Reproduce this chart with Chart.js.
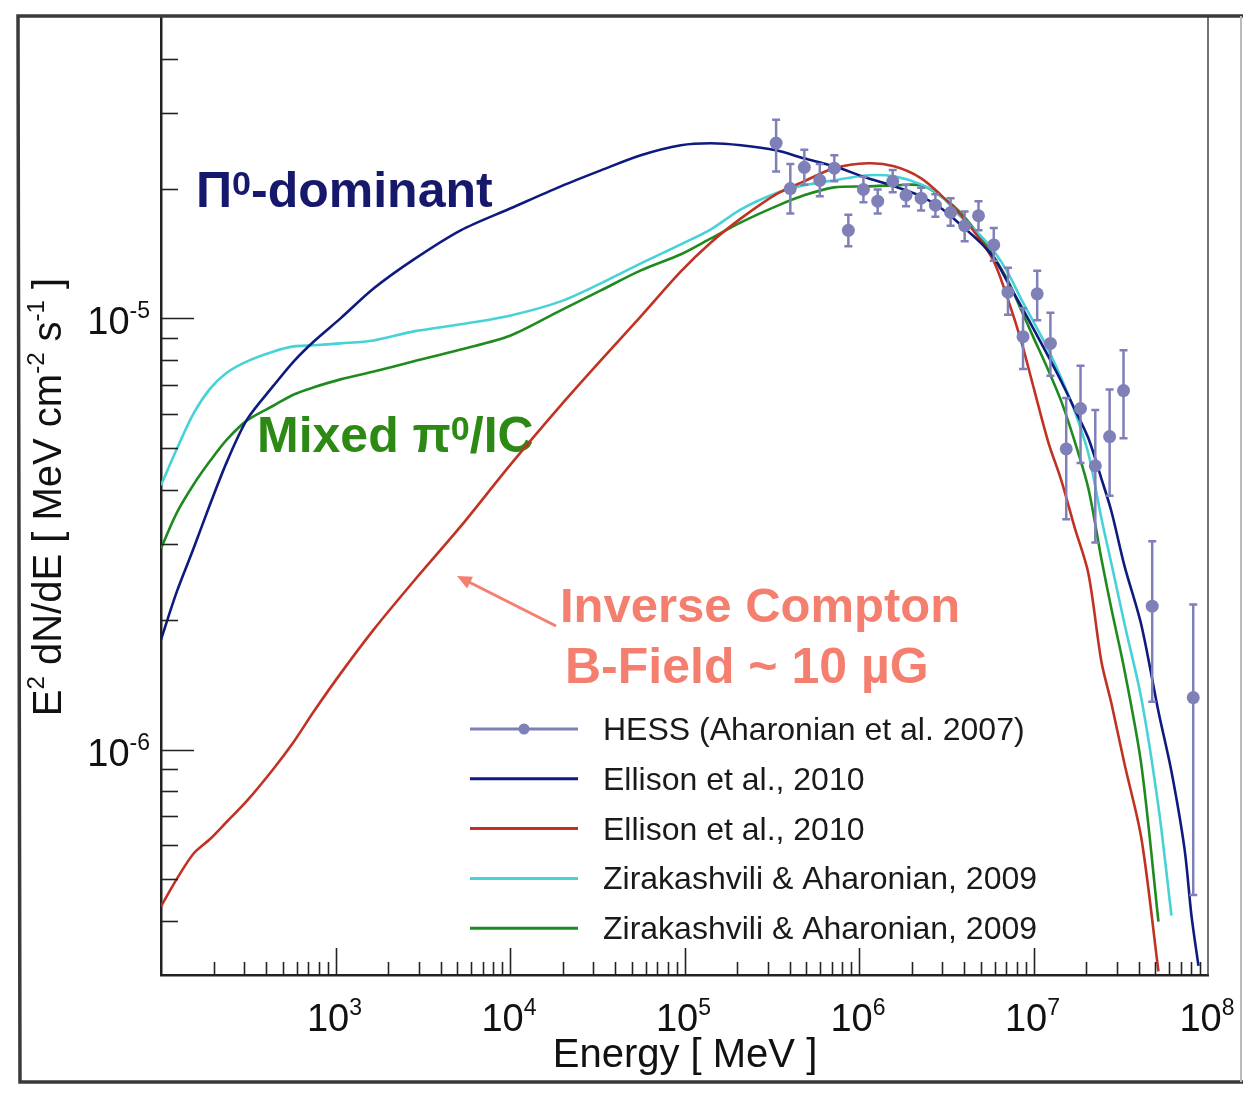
<!DOCTYPE html>
<html>
<head>
<meta charset="utf-8">
<script src="https://cdn.jsdelivr.net/npm/chart.js@4.4.1/dist/chart.umd.min.js"></script>
<style>
  html, body { margin: 0; padding: 0; background: #fff; }
  #wrap { width: 1245px; height: 1094px; }
</style>
</head>
<body>
<div id="wrap"><canvas id="c" width="1245" height="1094"></canvas></div>
<script>
// energy grid shared by the model curves [MeV]
const energyGrid = [100, 123.5, 153.8, 191.8, 239.1, 311.5, 442.6, 576.7, 750.8, 1068,
  1659, 2813, 5215, 10090, 19540, 33150, 56220, 95350, 141700, 210600,
  334500, 484200, 719600, 1.128e6, 1.590e6, 2.271e6, 2.958e6, 3.853e6, 5.018e6, 5.958e6,
  7.170e6, 8.511e6, 1.011e7, 1.216e7, 1.443e7, 1.715e7, 2.063e7, 2.449e7, 2.795e7, 3.319e7,
  4.155e7, 5.200e7, 6.175e7, 7.333e7, 8.04e7, 8.82e7];

// E^2 dN/dE [MeV cm^-2 s^-1]
const fluxEllisonPion = [1.80e-6, 2.33e-6, 2.93e-6, 3.72e-6, 4.66e-6, 5.83e-6, 6.99e-6, 7.95e-6, 8.84e-6, 1.00e-5,
  1.174e-5, 1.37e-5, 1.60e-5, 1.80e-5, 2.024e-5, 2.204e-5, 2.389e-5, 2.520e-5, 2.547e-5, 2.520e-5,
  2.453e-5, 2.351e-5, 2.252e-5, 2.113e-5, 2.024e-5, 1.919e-5, 1.800e-5, 1.644e-5, 1.493e-5, 1.378e-5,
  1.206e-5, 1.066e-5, 9.38e-6, 8.16e-6, 7.14e-6, 6.18e-6, 5.27e-6, 4.25e-6, 3.57e-6, 2.67e-6,
  1.94e-6, 1.225e-6, 8.89e-7, 5.89e-7, 4.12e-7, 3.15e-7];

const fluxEllisonIC = [4.33e-7, 5.02e-7, 5.74e-7, 6.21e-7, 6.81e-7, 7.61e-7, 9.04e-7, 1.043e-6, 1.225e-6, 1.50e-6,
  1.90e-6, 2.46e-6, 3.292e-6, 4.585e-6, 6.284e-6, 7.99e-6, 1.011e-5, 1.285e-5, 1.500e-5, 1.706e-5,
  1.940e-5, 2.079e-5, 2.228e-5, 2.289e-5, 2.252e-5, 2.113e-5, 1.929e-5, 1.734e-5, 1.509e-5, 1.349e-5,
  1.101e-5, 8.84e-6, 6.81e-6, 5.16e-6, 4.21e-6, 3.29e-6, 2.56e-6, 1.60e-6, 1.28e-6, 9.28e-7,
  6.21e-7, 3.06e-7, null, null, null, null];

const fluxZirakCyan = [4.10e-6, 4.99e-6, 6.02e-6, 6.88e-6, 7.49e-6, 7.95e-6, 8.38e-6, 8.61e-6, 8.66e-6, 8.75e-6,
  8.89e-6, 9.33e-6, 9.69e-6, 1.016e-5, 1.095e-5, 1.206e-5, 1.341e-5, 1.485e-5, 1.609e-5, 1.790e-5,
  1.950e-5, 2.035e-5, 2.090e-5, 2.147e-5, 2.135e-5, 2.046e-5, 1.919e-5, 1.715e-5, 1.550e-5, 1.430e-5,
  1.272e-5, 1.107e-5, 9.74e-6, 8.45e-6, 7.26e-6, 6.12e-6, 4.86e-6, 3.44e-6, 2.70e-6, 1.96e-6,
  1.31e-6, 7.37e-7, 4.12e-7, null, null, null];

const fluxZirakGreen = [2.93e-6, 3.55e-6, 4.12e-6, 4.68e-6, 5.24e-6, 5.80e-6, 6.28e-6, 6.66e-6, 6.92e-6, 7.22e-6,
  7.53e-6, 7.95e-6, 8.47e-6, 9.13e-6, 1.044e-5, 1.161e-5, 1.292e-5, 1.408e-5, 1.533e-5, 1.670e-5,
  1.819e-5, 1.929e-5, 2.013e-5, 2.024e-5, 2.035e-5, 2.035e-5, 1.919e-5, 1.752e-5, 1.533e-5, 1.385e-5,
  1.218e-5, 1.044e-5, 8.94e-6, 7.58e-6, 6.42e-6, 5.21e-6, 4.03e-6, 2.77e-6, 2.12e-6, 1.53e-6,
  9.18e-7, 3.99e-7, null, null, null, null];

// HESS points with error bars
const hessEnergy = [3.35e5, 4.04e5, 4.86e5, 5.96e5, 7.22e5, 8.69e5, 1.06e6, 1.28e6, 1.56e6, 1.86e6,
  2.27e6, 2.74e6, 3.35e6, 4.03e6, 4.84e6, 5.92e6, 7.14e6, 8.71e6, 1.05e7, 1.25e7,
  1.54e7, 1.86e7, 2.26e7, 2.73e7, 3.28e7, 4.79e7, 8.23e7];
const hessFlux = [2.55e-5, 2.00e-5, 2.24e-5, 2.09e-5, 2.23e-5, 1.60e-5, 1.99e-5, 1.87e-5, 2.08e-5, 1.93e-5,
  1.90e-5, 1.83e-5, 1.76e-5, 1.64e-5, 1.73e-5, 1.48e-5, 1.15e-5, 9.07e-6, 1.14e-5, 8.75e-6,
  4.98e-6, 6.18e-6, 4.55e-6, 5.32e-6, 6.80e-6, 2.15e-6, 1.32e-6];
const hessLow = [2.19e-5, 1.75e-5, 2.04e-5, 1.92e-5, 2.08e-5, 1.47e-5, 1.86e-5, 1.75e-5, 1.96e-5, 1.82e-5,
  1.78e-5, 1.72e-5, 1.64e-5, 1.51e-5, 1.60e-5, 1.36e-5, 1.02e-5, 7.63e-6, 9.9e-6, 7.36e-6,
  3.42e-6, 4.62e-6, 3.02e-6, 3.88e-6, 5.27e-6, 1.29e-6, 4.6e-7];
const hessHigh = [2.89e-5, 2.28e-5, 2.46e-5, 2.28e-5, 2.39e-5, 1.74e-5, 2.13e-5, 1.99e-5, 2.21e-5, 2.04e-5,
  2.01e-5, 1.94e-5, 1.90e-5, 1.77e-5, 1.87e-5, 1.62e-5, 1.31e-5, 1.055e-5, 1.29e-5, 1.03e-5,
  6.54e-6, 7.76e-6, 6.13e-6, 6.84e-6, 8.44e-6, 3.04e-6, 2.17e-6];

const legendLabels = ["HESS (Aharonian et al. 2007)", "Ellison et al., 2010", "Ellison et al., 2010",
  "Zirakashvili & Aharonian, 2009", "Zirakashvili & Aharonian, 2009"];
const xTickExp = [3, 4, 5, 6, 7, 8];
const yTickExp = [-5, -6];

const COL = {
  hess: "#7f80b8",
  navy: "#0f1a7e",
  red: "#c03222",
  cyan: "#46d2d6",
  green: "#1f8a1f"
};
const FONT = '"Liberation Sans", Arial, sans-serif';

function pts(xs, ys) {
  return xs.map((x, i) => ({ x, y: ys[i] }));
}

function curve(label, ys, color) {
  return {
    label, data: pts(energyGrid, ys),
    borderColor: color, backgroundColor: color,
    borderWidth: 2.6, pointRadius: 0, fill: false,
    tension: 0.3, spanGaps: false
  };
}

// draw text pieces one after the other (used for superscripts)
function drawPieces(ctx, pieces, x, y, align) {
  let w = 0;
  pieces.forEach(p => { ctx.font = p.font; p.w = ctx.measureText(p.t).width; w += p.w; });
  let cx = align === "center" ? x - w / 2 : align === "right" ? x - w : x;
  ctx.textAlign = "left";
  ctx.textBaseline = "alphabetic";
  pieces.forEach(p => {
    ctx.font = p.font;
    ctx.fillText(p.t, cx, y + (p.dy || 0));
    cx += p.w;
  });
}

function power(exp, size) {
  const sup = Math.round(size * 0.6);
  return [
    { t: "10", font: `${size}px ${FONT}` },
    { t: String(exp), font: `${sup}px ${FONT}`, dy: -Math.round(size * 0.42) }
  ];
}

const decor = {
  id: "decor",
  beforeDatasetsDraw(chart) {
    const ctx = chart.ctx;
    ctx.save();
    // Π0-dominant
    ctx.fillStyle = "#16196b";
    drawPieces(ctx, [
      { t: "\u03a0", font: `bold 50px ${FONT}` },
      { t: "0", font: `bold 34px ${FONT}`, dy: -12 },
      { t: "-dominant", font: `bold 50px ${FONT}` }
    ], 196, 207, "left");
    // Mixed π0/IC
    ctx.fillStyle = "#2c8a14";
    drawPieces(ctx, [
      { t: "Mixed \u03c0", font: `bold 50px ${FONT}` },
      { t: "0", font: `bold 34px ${FONT}`, dy: -12 },
      { t: "/IC", font: `bold 50px ${FONT}` }
    ], 257, 452, "left");
    // Inverse Compton
    ctx.fillStyle = "#f47f6f";
    ctx.font = `bold 49px ${FONT}`;
    ctx.textAlign = "left";
    ctx.fillText("Inverse Compton", 560, 622);
    ctx.font = `bold 50px ${FONT}`;
    ctx.fillText("B-Field ~ 10 \u00b5G", 565, 683);
    // arrow
    ctx.strokeStyle = "#f47f6f";
    ctx.lineWidth = 3;
    const ax0 = 556, ay0 = 626, ax1 = 457, ay1 = 576;
    ctx.beginPath(); ctx.moveTo(ax0, ay0); ctx.lineTo(ax1 + 6, ay1 + 3); ctx.stroke();
    const ang = Math.atan2(ay1 - ay0, ax1 - ax0);
    ctx.beginPath();
    ctx.moveTo(ax1, ay1);
    ctx.lineTo(ax1 - 16 * Math.cos(ang - 0.42), ay1 - 16 * Math.sin(ang - 0.42));
    ctx.lineTo(ax1 - 16 * Math.cos(ang + 0.42), ay1 - 16 * Math.sin(ang + 0.42));
    ctx.closePath();
    ctx.fillStyle = "#f47f6f";
    ctx.fill();
    ctx.restore();
  },
  beforeDatasetDraw(chart, args) {
    if (args.index !== 0) return;
    const ctx = chart.ctx, xs = chart.scales.x, ys = chart.scales.y, a = chart.chartArea;
    ctx.save();
    ctx.beginPath(); ctx.rect(a.left, a.top, a.right - a.left, a.bottom - a.top); ctx.clip();
    ctx.strokeStyle = COL.hess;
    ctx.lineWidth = 2.5;
    hessEnergy.forEach((e, i) => {
      const px = xs.getPixelForValue(e);
      const yl = ys.getPixelForValue(hessLow[i]);
      const yh = ys.getPixelForValue(hessHigh[i]);
      ctx.beginPath();
      ctx.moveTo(px, yl); ctx.lineTo(px, yh);
      ctx.moveTo(px - 4, yl); ctx.lineTo(px + 4, yl);
      ctx.moveTo(px - 4, yh); ctx.lineTo(px + 4, yh);
      ctx.stroke();
    });
    ctx.restore();
  },
  afterDraw(chart) {
    const ctx = chart.ctx, xs = chart.scales.x, ys = chart.scales.y, a = chart.chartArea;
    ctx.save();
    // right axis line
    ctx.strokeStyle = "#444";
    ctx.lineWidth = 1.5;
    ctx.beginPath(); ctx.moveTo(a.right, a.top); ctx.lineTo(a.right, a.bottom); ctx.stroke();

    // inward tick marks
    ctx.strokeStyle = "#222";
    ctx.lineWidth = 1.6;
    for (let d = 2; d <= 8; d++) {
      for (let m = 1; m <= 9; m++) {
        const v = m * Math.pow(10, d);
        if (v <= xs.min || v >= xs.max) continue;
        const px = Math.round(xs.getPixelForValue(v)) + 0.5;
        const len = m === 1 ? 27 : 13;
        ctx.beginPath(); ctx.moveTo(px, a.bottom); ctx.lineTo(px, a.bottom - len); ctx.stroke();
      }
    }
    for (let d = -7; d <= -4; d++) {
      for (let m = 1; m <= 9; m++) {
        const v = m * Math.pow(10, d);
        if (v <= ys.min * 1.02 || v >= ys.max * 0.98) continue;
        const py = Math.round(ys.getPixelForValue(v)) + 0.5;
        const len = m === 1 ? 33 : 17;
        ctx.beginPath(); ctx.moveTo(a.left, py); ctx.lineTo(a.left + len, py); ctx.stroke();
      }
    }

    // tick labels
    ctx.fillStyle = "#111";
    xTickExp.forEach(e => {
      drawPieces(ctx, power(e, 38), xs.getPixelForValue(Math.pow(10, e)) - 1, 1031, "center");
    });
    yTickExp.forEach(e => {
      drawPieces(ctx, power(e, 38), 150, ys.getPixelForValue(Math.pow(10, e)) + 16, "right");
    });

    // axis titles
    drawPieces(ctx, [{ t: "Energy [ MeV ]", font: `40px ${FONT}` }], 685, 1067, "center");
    ctx.save();
    ctx.translate(61, 497);
    ctx.rotate(-Math.PI / 2);
    const tf = `40px ${FONT}`, sf = `24px ${FONT}`;
    drawPieces(ctx, [
      { t: "E", font: tf }, { t: "2", font: sf, dy: -17 },
      { t: " dN/dE [ MeV cm", font: tf }, { t: "-2", font: sf, dy: -17 },
      { t: " s", font: tf }, { t: "-1", font: sf, dy: -17 },
      { t: " ]", font: tf }
    ], 0, 0, "center");
    ctx.restore();

    // legend
    const legendCols = [COL.hess, COL.navy, COL.red, COL.cyan, COL.green];
    legendLabels.forEach((lab, i) => {
      const y = 729 + i * 49.8;
      ctx.strokeStyle = legendCols[i];
      ctx.lineWidth = 3;
      ctx.beginPath(); ctx.moveTo(470, y); ctx.lineTo(578, y); ctx.stroke();
      if (i === 0) {
        ctx.fillStyle = COL.hess;
        ctx.beginPath(); ctx.arc(524, y, 5.5, 0, Math.PI * 2); ctx.fill();
      }
      ctx.fillStyle = "#1a1a1a";
      ctx.font = `32px ${FONT}`;
      ctx.textAlign = "left";
      ctx.textBaseline = "alphabetic";
      ctx.fillText(lab, 603, y + 11);
    });

    // outer frame
    ctx.strokeStyle = "#3a3a3a";
    ctx.lineWidth = 3.5;
    ctx.beginPath();
    ctx.moveTo(1243, 16); ctx.lineTo(18, 16); ctx.lineTo(20, 1082); ctx.lineTo(1243, 1082);
    ctx.stroke();
    ctx.strokeStyle = "#bbb";
    ctx.lineWidth = 2;
    ctx.beginPath(); ctx.moveTo(1241, 16); ctx.lineTo(1241, 1082); ctx.stroke();
    ctx.restore();
  }
};

new Chart(document.getElementById("c"), {
  type: "line",
  data: {
    datasets: [
      {
        label: legendLabels[0], data: pts(hessEnergy, hessFlux),
        showLine: false, pointRadius: 6.5, pointHoverRadius: 6.5,
        pointBackgroundColor: COL.hess, pointBorderWidth: 0, borderColor: COL.hess
      },
      curve(legendLabels[1], fluxEllisonPion, COL.navy),
      curve(legendLabels[2], fluxEllisonIC, COL.red),
      curve(legendLabels[3], fluxZirakCyan, COL.cyan),
      curve(legendLabels[4], fluxZirakGreen, COL.green)
    ]
  },
  options: {
    responsive: false,
    devicePixelRatio: 1,
    animation: false,
    layout: { padding: { left: 161, right: 37, top: 17, bottom: 119 } },
    plugins: { legend: { display: false }, tooltip: { enabled: false } },
    scales: {
      x: {
        type: "logarithmic", min: 100, max: 1e8,
        ticks: { display: false },
        grid: { display: false, drawTicks: false },
        border: { display: true, color: "#222", width: 2.5 }
      },
      y: {
        type: "logarithmic", min: 3e-7, max: 5e-5,
        ticks: { display: false },
        grid: { display: false, drawTicks: false },
        border: { display: true, color: "#222", width: 2.5 }
      }
    }
  },
  plugins: [decor]
});
</script>
</body>
</html>
